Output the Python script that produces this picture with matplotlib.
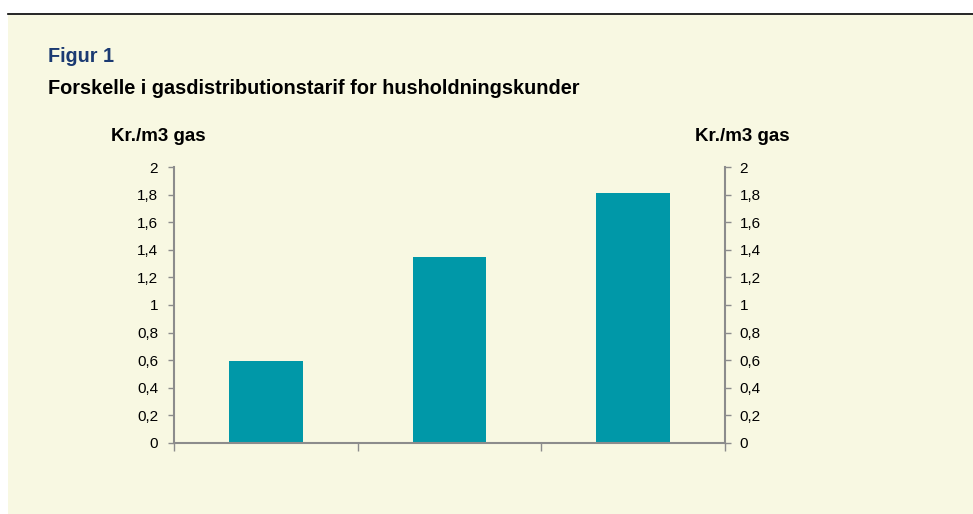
import numpy as np
import matplotlib.pyplot as plt
from matplotlib.patches import Rectangle
from matplotlib.lines import Line2D

plt.rcParams['font.family'] = ['Liberation Sans', 'DejaVu Sans']

# Data
kategorier = ['', '', '']
tarif = [0.59, 1.35, 1.81]
yticks = [0, 0.2, 0.4, 0.6, 0.8, 1, 1.2, 1.4, 1.6, 1.8, 2]
ytick_labels = ['0', '0,2', '0,4', '0,6', '0,8', '1', '1,2', '1,4', '1,6', '1,8', '2']

bg = '#F8F8E2'
teal = '#0098A8'
axis_grey = '#8C8C8C'

fig = plt.figure(figsize=(9.73, 5.14), dpi=100)
fig.patch.set_facecolor('white')

# Cream panel and top rule
fig.patches.append(Rectangle((8/973, 0), 1 - 8/973, 1 - 15/514,
                             transform=fig.transFigure, facecolor=bg,
                             edgecolor='none', zorder=-10))
fig.lines.append(Line2D([8/973, 1], [1 - 14/514, 1 - 14/514],
                        transform=fig.transFigure, color='black', lw=1.2,
                        zorder=-5))

fig.text(48/973, 1 - 56/514, 'Figur 1', color='#1B3A72', fontsize=14.2,
         fontweight='bold', va='center', ha='left')
fig.text(48/973, 1 - 88/514, 'Forskelle i gasdistributionstarif for husholdningskunder',
         color='black', fontsize=14.3, fontweight='bold', va='center', ha='left')

ax = fig.add_axes([174/973, 1 - 442.7/514, (725 - 174)/973, (442.7 - 167.3)/514])
ax.set_facecolor('none')
x = np.arange(len(tarif))
ax.bar(x, tarif, width=0.4, color=teal, zorder=2)
ax.set_xlim(-0.5, len(tarif) - 0.5)
ax.set_ylim(0, 2)

ax.set_xticks(np.arange(-0.5, len(tarif)))
ax.set_xticklabels([])
ax.tick_params(axis='x', direction='out', length=6, color=axis_grey, width=1)
ax.set_yticks(yticks)
ax.set_yticklabels(ytick_labels)
ax.tick_params(axis='y', direction='out', length=4, color=axis_grey, width=1,
               labelsize=11, pad=7.5)

for s in ['top', 'right']:
    ax.spines[s].set_visible(False)
for s in ['left', 'bottom']:
    ax.spines[s].set_color(axis_grey)
    ax.spines[s].set_linewidth(1.5)

ax2 = ax.twinx()
ax2.set_ylim(0, 2)
ax2.set_yticks(yticks)
ax2.set_yticklabels(ytick_labels)
ax2.tick_params(axis='y', direction='out', length=4, color=axis_grey, width=1,
                labelsize=11, pad=6.5)
for s in ['top', 'left', 'bottom']:
    ax2.spines[s].set_visible(False)
ax2.spines['right'].set_color(axis_grey)
ax2.spines['right'].set_linewidth(1.5)

fig.text(158/973, 1 - 137/514, 'Kr./m3 gas', fontsize=13.5, fontweight='bold',
         ha='center', va='center')
fig.text(742/973, 1 - 137/514, 'Kr./m3 gas', fontsize=13.5, fontweight='bold',
         ha='center', va='center')

fig.savefig('out.png', dpi=100)
